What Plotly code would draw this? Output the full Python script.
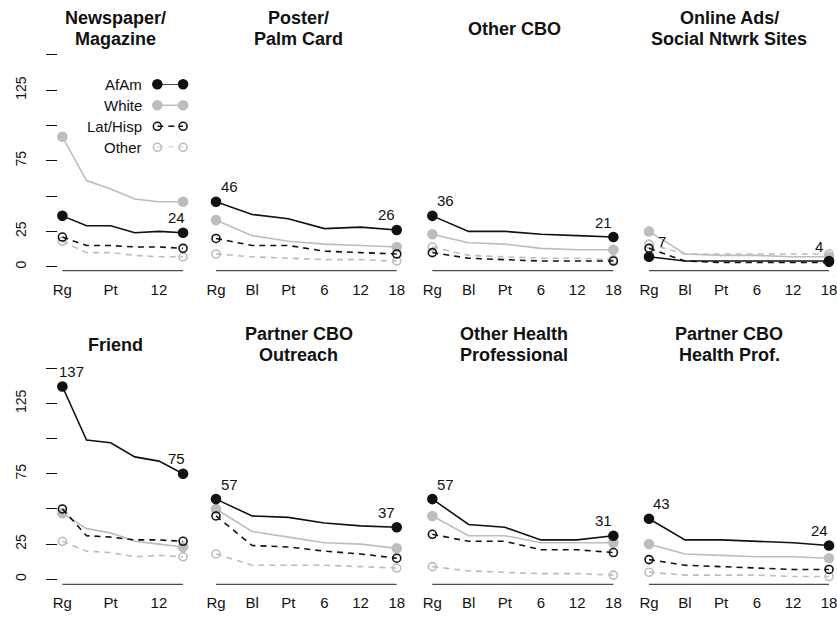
import plotly.graph_objects as go

# ---------------- data ----------------
cats = ["Rg", "Bl", "Pt", "6", "12", "18"]
cats_narrow = ["Rg", "", "Pt", "", "12", ""]

titles = [
    ["Newspaper/", "Magazine"],
    ["Poster/", "Palm Card"],
    ["Other CBO"],
    ["Online Ads/", "Social Ntwrk Sites"],
    ["Friend"],
    ["Partner CBO", "Outreach"],
    ["Other Health", "Professional"],
    ["Partner CBO", "Health Prof."],
]

afam = [
    [36, 29, 29, 24, 25, 24],
    [46, 37, 34, 27, 28, 26],
    [36, 25, 25, 23, 22, 21],
    [7, 4, 4, 4, 4, 4],
    [137, 99, 97, 87, 84, 75],
    [57, 45, 44, 40, 38, 37],
    [57, 39, 37, 28, 28, 31],
    [43, 28, 28, 27, 26, 24],
]
white = [
    [92, 61, 55, 48, 46, 46],
    [33, 22, 18, 16, 15, 14],
    [23, 17, 16, 13, 12, 12],
    [25, 9, 8, 8, 7, 7],
    [47, 36, 33, 27, 25, 23],
    [50, 34, 30, 26, 25, 22],
    [45, 31, 31, 26, 26, 26],
    [25, 18, 17, 16, 16, 15],
]
lathisp = [
    [21, 15, 15, 14, 14, 13],
    [20, 15, 15, 11, 10, 9],
    [10, 6, 5, 4, 4, 4],
    [13, 4, 3, 3, 3, 3],
    [50, 31, 30, 28, 28, 27],
    [45, 24, 23, 20, 18, 15],
    [32, 27, 27, 21, 21, 19],
    [14, 10, 9, 8, 7, 7],
]
other = [
    [18, 10, 10, 8, 7, 7],
    [9, 7, 6, 5, 5, 4],
    [14, 8, 7, 6, 6, 5],
    [16, 9, 9, 9, 9, 9],
    [27, 20, 19, 16, 17, 16],
    [18, 10, 10, 10, 9, 8],
    [9, 6, 5, 4, 4, 3],
    [5, 3, 3, 3, 2, 2],
]
show_first_label = [False, True, True, True, True, True, True, True]

y_tickvals = [0, 25, 50, 75, 100, 125, 150]
y_ticktext = ["0", "25", "", "75", "", "125", ""]

series_names = ["AfAm", "White", "Lat/Hisp", "Other"]
series_data = [afam, white, lathisp, other]

# ---------------- styling ----------------
W, H = 837, 618
FONT = "Liberation Sans, Arial, Helvetica, sans-serif"
BLACK = "#111111"
GREY = "#bdbdbd"
DASH = "6px,5px"
styles = {
    "AfAm": dict(color=BLACK, dash="solid", symbol="circle", size=9),
    "White": dict(color=GREY, dash="solid", symbol="circle", size=9),
    "Lat/Hisp": dict(color=BLACK, dash=DASH, symbol="circle-open", size=8),
    "Other": dict(color=GREY, dash=DASH, symbol="circle-open", size=8),
}
draw_order = ["White", "Other", "Lat/Hisp", "AfAm"]

col_first_px = [58, 213.3, 432, 651]
col_last_px = [180, 396, 615, 833]
rows = [
    dict(zero=266.7, ppu=1.412, bottom=270.7, top=48, title_mid=28.8),
    dict(zero=579.3, ppu=1.407, bottom=584.3, top=362, title_mid=344.5),
]
title_x_px = [112, 297, 515, 732]


def py(p):
    return 1 - p / H


fig = go.Figure()
layout = dict(
    width=W, height=H, margin=dict(l=0, r=0, t=0, b=0),
    paper_bgcolor="white", plot_bgcolor="white", showlegend=False,
    font=dict(family=FONT, size=15, color=BLACK),
)
annotations = []
shapes = []

n = len(cats)
for k in range(8):
    r, c = divmod(k, 4)
    ax = "" if k == 0 else str(k + 1)
    xr, yr = "x" + ax, "y" + ax
    first, last = col_first_px[c], col_last_px[c]
    ppu_x = (last - first) / (n - 1)
    left = max(0, first - 0.2 * ppu_x)
    right = min(W, last + 0.2 * ppu_x)
    row = rows[r]
    layout["xaxis" + ax] = dict(
        domain=[left / W, right / W],
        range=[(left - first) / ppu_x, (right - first) / ppu_x],
        anchor=yr, showgrid=False, zeroline=False, showline=False,
        ticks="", tickvals=list(range(n)),
        ticktext=cats_narrow if c == 0 else cats,
        tickfont=dict(size=15, color=BLACK), ticklabelstandoff=8,
        ticklabeloverflow="allow",
    )
    layout["yaxis" + ax] = dict(
        domain=[py(row["bottom"]), py(row["top"])],
        range=[(row["zero"] - row["bottom"]) / row["ppu"], (row["zero"] - row["top"]) / row["ppu"]],
        anchor=xr, showgrid=False, zeroline=False, showline=False,
        tickvals=y_tickvals, ticktext=y_ticktext,
        ticks="outside" if c == 0 else "", ticklen=11, tickwidth=1, tickcolor=BLACK,
        showticklabels=(c == 0), tickangle=-90,
        tickfont=dict(size=14, color=BLACK), ticklabelstandoff=14,
        ticklabeloverflow="allow",
    )
    # axis line from first to last category
    shapes.append(dict(type="line", xref=xr, yref=yr + " domain", x0=0, x1=n - 1, y0=0, y1=0,
                       line=dict(color="#222222", width=1)))
    for name in draw_order:
        vals = series_data[series_names.index(name)][k]
        st = styles[name]
        fig.add_trace(go.Scatter(
            x=list(range(n)), y=vals, mode="lines", xaxis=xr, yaxis=yr,
            line=dict(color=st["color"], width=1.6, dash=st["dash"]), hoverinfo="skip",
        ))
        fig.add_trace(go.Scatter(
            x=[0, n - 1], y=[vals[0], vals[-1]], mode="markers", xaxis=xr, yaxis=yr,
            cliponaxis=False,
            marker=dict(symbol=st["symbol"], size=st["size"], color=st["color"],
                        line=dict(width=1.6, color=st["color"])),
            hoverinfo="skip",
        ))
    # value labels for AfAm
    av = afam[k]
    if show_first_label[k]:
        annotations.append(dict(x=0.36, y=av[0], xref=xr, yref=yr, text=str(av[0]),
                                showarrow=False, yshift=15, font=dict(size=15, color=BLACK)))
    annotations.append(dict(x=n - 1 - 0.27, y=av[-1], xref=xr, yref=yr, text=str(av[-1]),
                            showarrow=False, yshift=15, font=dict(size=15, color=BLACK)))
    # titles
    lines = titles[k]
    mid = row["title_mid"]
    offs = [0] if len(lines) == 1 else [-10.5, 10.5]
    for line, o in zip(lines, offs):
        annotations.append(dict(x=title_x_px[c] / W, y=py(mid + o), xref="paper", yref="paper",
                                text="<b>" + line + "</b>", showarrow=False,
                                xanchor="center", yanchor="middle",
                                font=dict(size=18, color=BLACK)))

# legend (in first panel)
leg_rows_px = [84.3, 105.3, 126.3, 147.3]
layout["xaxis9"] = dict(domain=[154 / W, 180 / W], range=[0, 1], visible=False, anchor="y9")
layout["yaxis9"] = dict(domain=[py(leg_rows_px[-1]), py(leg_rows_px[0])], range=[0, 3],
                        visible=False, anchor="x9")
for i, name in enumerate(series_names):
    st = styles[name]
    yv = len(series_names) - 1 - i
    fig.add_trace(go.Scatter(
        x=[0, 1], y=[yv, yv], mode="lines+markers", xaxis="x9", yaxis="y9", cliponaxis=False,
        line=dict(color=st["color"], width=1.6, dash=st["dash"]),
        marker=dict(symbol=st["symbol"], size=st["size"], color=st["color"],
                    line=dict(width=1.6, color=st["color"])),
        hoverinfo="skip",
    ))
    annotations.append(dict(x=140.7 / W, y=py(leg_rows_px[i]), xref="paper", yref="paper",
                            text=name, showarrow=False, xanchor="right", yanchor="middle",
                            font=dict(size=15, color=BLACK)))

layout["annotations"] = annotations
layout["shapes"] = shapes
fig.update_layout(**layout)
fig.write_html(
    "out.html",
    config={"displayModeBar": False},
    post_script="document.body.style.margin='0px';document.body.style.overflow='hidden';",
)
